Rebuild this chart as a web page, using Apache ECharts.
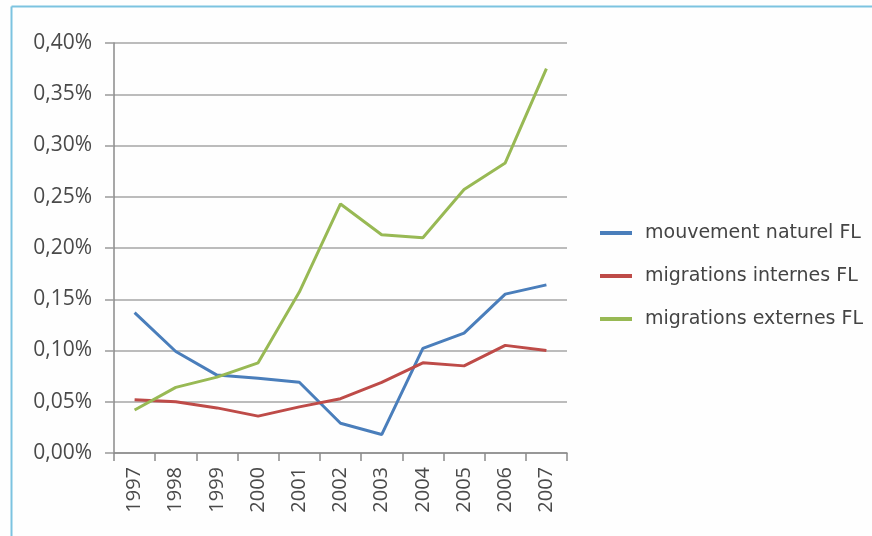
<!DOCTYPE html>
<html>
<head>
<meta charset="utf-8">
<script src="https://cdn.jsdelivr.net/npm/echarts@6/dist/echarts.min.js"></script>
<style>
  html, body { margin: 0; padding: 0; background: #fefefe; }
  #chart { width: 872px; height: 536px; }
</style>
</head>
<body>
<div id="chart"></div>
<script>
// Years on the category axis
const years = ['1997', '1998', '1999', '2000', '2001', '2002', '2003', '2004', '2005', '2006', '2007'];

// Annual rates, in percent
const mouvementNaturel = [0.137, 0.099, 0.076, 0.073, 0.069, 0.029, 0.018, 0.102, 0.117, 0.155, 0.164];
const migrationsInternes = [0.052, 0.050, 0.044, 0.036, 0.045, 0.053, 0.069, 0.088, 0.085, 0.105, 0.100];
const migrationsExternes = [0.042, 0.064, 0.074, 0.088, 0.157, 0.243, 0.213, 0.210, 0.257, 0.283, 0.375];

const seriesNames = ['mouvement naturel FL', 'migrations internes FL', 'migrations externes FL'];
const seriesColors = ['#4a7ebb', '#be4b48', '#98b954'];
const seriesData = [mouvementNaturel, migrationsInternes, migrationsExternes];

const chart = echarts.init(document.getElementById('chart'), null, { renderer: 'canvas' });

chart.setOption({
  backgroundColor: '#fefefe',
  animation: false,
  grid: { left: 114, right: 305, top: 43, bottom: 83, containLabel: false },
  xAxis: {
    type: 'category',
    data: years,
    boundaryGap: true,
    axisLine: { show: true, lineStyle: { color: '#8a8a8a', width: 1.5 } },
    axisTick: { show: true, alignWithLabel: false, length: 8, lineStyle: { color: '#8a8a8a', width: 1.5 } },
    axisLabel: {
      rotate: 90,
      margin: 14,
      color: '#4a4a4a',
      fontFamily: 'Open Sans',
      fontSize: 20
    },
    splitLine: { show: false }
  },
  yAxis: {
    type: 'value',
    min: 0,
    max: 0.4,
    interval: 0.05,
    axisLine: { show: true, lineStyle: { color: '#8a8a8a', width: 1.5 } },
    axisTick: { show: true, length: 9, lineStyle: { color: '#9a9a9a', width: 1.5 } },
    axisLabel: {
      margin: 22,
      color: '#4a4a4a',
      fontFamily: 'Open Sans',
      fontSize: 21,
      formatter: v => v.toFixed(2).replace('.', ',') + '%'
    },
    splitLine: { show: true, lineStyle: { color: '#a6a6a6', width: 1.5 } }
  },
  legend: {
    orient: 'vertical',
    left: 595,
    top: 216,
    itemWidth: 32,
    itemHeight: 4,
    itemGap: 19,
    icon: 'rect',
    data: seriesNames,
    textStyle: {
      color: '#444444',
      fontFamily: 'DejaVu Sans',
      fontSize: 19,
      lineHeight: 24,
      padding: [0, 0, 0, 8]
    }
  },
  graphic: [
    { type: 'line', shape: { x1: 11.5, y1: 6.5, x2: 872, y2: 6.5 }, style: { stroke: '#7cc3e0', lineWidth: 2 } },
    { type: 'line', shape: { x1: 11.5, y1: 6.5, x2: 11.5, y2: 536 }, style: { stroke: '#7cc3e0', lineWidth: 2 } }
  ],
  series: seriesNames.map((name, i) => ({
    name: name,
    type: 'line',
    data: seriesData[i],
    symbol: 'none',
    smooth: false,
    lineStyle: { color: seriesColors[i], width: 3 },
    itemStyle: { color: seriesColors[i] }
  }))
});
</script>
</body>
</html>
